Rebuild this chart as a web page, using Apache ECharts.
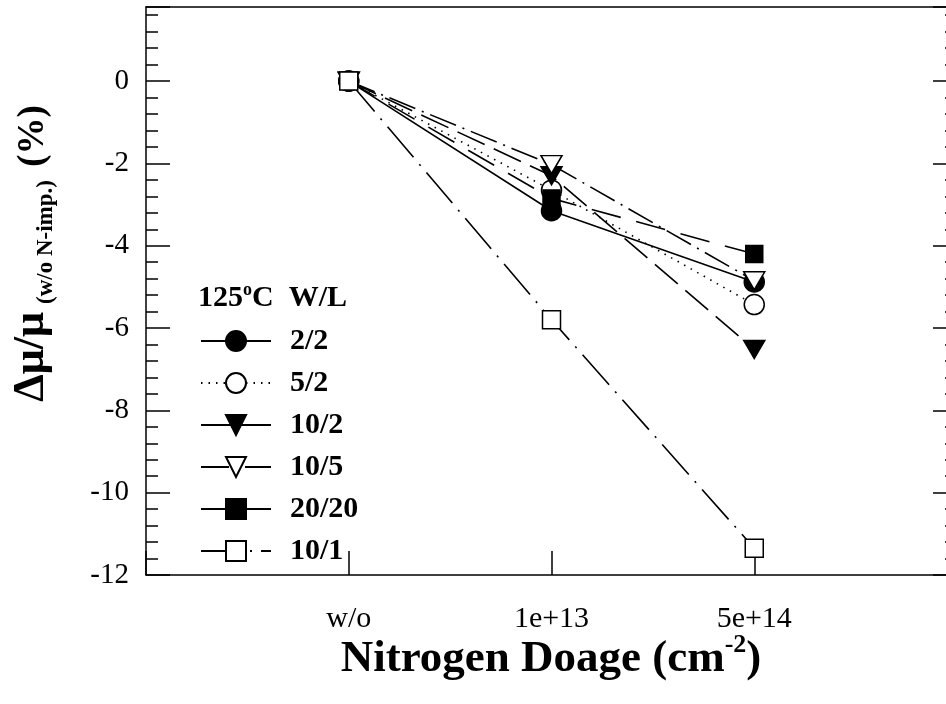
<!DOCTYPE html>
<html><head><meta charset="utf-8">
<script src="https://cdn.jsdelivr.net/npm/echarts@6/dist/echarts.min.js"></script>
<style>html,body{margin:0;padding:0;background:#fff}#c{width:946px;height:704px}</style>
</head><body><div id="c"></div>
<script>
// ---- data ----
const categories = ['w/o', '1e+13', '5e+14'];
const seriesNames = ['2/2', '5/2', '10/2', '10/5', '20/20', '10/1'];
const v_2_2   = [0, -3.15, -4.88];
const v_5_2   = [0, -2.65, -5.43];
const v_10_2  = [0, -2.30, -6.52];
const v_10_5  = [0, -2.03, -4.85];
const v_20_20 = [0, -2.85, -4.20];
const v_10_1  = [0, -5.80, -11.35];
const yTickValues = [0, -2, -4, -6, -8, -10, -12];

// ---- chart ----
const FONT = '"Liberation Serif", "Times New Roman", serif';
const chart = echarts.init(document.getElementById('c'));
const toPoints = vals => vals.map((v, i) => [i + 1, v]);
const DOWN_TRI = 'path://M0,0L20,0L10,17Z';
const lw = 1.6;

const styles = {
  '2/2':   {symbol: 'circle', size: 20, fill: '#000', dash: 'solid'},
  '5/2':   {symbol: 'circle', size: 20, fill: '#fff', dash: [1.5, 6]},
  '10/2':  {symbol: DOWN_TRI, size: [21, 18], fill: '#000', dash: [30, 10]},
  '10/5':  {symbol: DOWN_TRI, size: [21, 18], fill: '#fff', dash: [28, 7, 2, 7]},
  '20/20': {symbol: 'rect', size: 17, fill: '#000', dash: [30, 16]},
  '10/1':  {symbol: 'rect', size: 18, fill: '#fff', dash: [40, 9, 2, 9]}
};
const valueSets = [v_2_2, v_5_2, v_10_2, v_10_5, v_20_20, v_10_1];

const series = seriesNames.map((name, k) => {
  const s = styles[name];
  return {
    name: name,
    type: 'line',
    data: toPoints(valueSets[k]),
    symbol: s.symbol,
    symbolSize: s.size,
    symbolKeepAspect: false,
    showAllSymbol: true,
    itemStyle: {color: s.fill, borderColor: '#000', borderWidth: 1.5, opacity: 1},
    lineStyle: {color: '#000', width: lw, type: s.dash},
    emphasis: {disabled: true},
    z: 2 + k
  };
});

const axisLineStyle = {color: '#000', width: 1.5};

const option = {
  animation: false,
  backgroundColor: '#fff',
  grid: {left: 146, top: 7, width: 811, height: 568, outerBoundsMode: 'none', containLabel: false},
  legend: {
    orient: 'vertical',
    left: 200,
    top: 326,
    padding: 0,
    itemWidth: 70,
    itemHeight: 25,
    itemGap: 12,
    data: seriesNames,
    selectedMode: false,
    textStyle: {fontFamily: FONT, fontSize: 30, fontWeight: 'bold', color: '#000', lineHeight: 25, padding: [0, 0, 0, 14]}
  },
  xAxis: [{
    type: 'value', min: 0, max: 4, interval: 1, position: 'bottom',
    axisLine: {show: true, onZero: false, lineStyle: axisLineStyle},
    axisTick: {show: true, inside: true, length: 24, lineStyle: {color: '#000', width: 1.5}},
    axisLabel: {
      margin: 29, fontFamily: FONT, fontSize: 30, color: '#000',
      formatter: v => categories[Math.round(v) - 1] || ''
    },
    splitLine: {show: false}
  }, {
    type: 'value', min: 0, max: 4, interval: 1, position: 'top',
    axisLine: {show: true, onZero: false, lineStyle: axisLineStyle},
    axisTick: {show: false}, axisLabel: {show: false}, splitLine: {show: false}
  }],
  yAxis: [{
    type: 'value', min: -12, max: 1.8, interval: 2, position: 'left',
    axisLine: {show: true, onZero: false, lineStyle: axisLineStyle},
    axisTick: {show: true, inside: true, length: 24, lineStyle: {color: '#000', width: 1.5}},
    minorTick: {show: true, splitNumber: 5, length: 12, lineStyle: {color: '#000', width: 1.5}},
    axisLabel: {
      margin: 17, fontFamily: FONT, fontSize: 29, color: '#000',
      formatter: v => (yTickValues.indexOf(Math.round(v * 100) / 100) >= 0 ? String(v) : '')
    },
    splitLine: {show: false}
  }, {
    type: 'value', min: -12, max: 1.8, interval: 2, position: 'right',
    axisLine: {show: true, onZero: false, lineStyle: axisLineStyle},
    axisTick: {show: true, inside: true, length: 24, lineStyle: {color: '#000', width: 1.5}},
    minorTick: {show: true, splitNumber: 5, length: 12, lineStyle: {color: '#000', width: 1.5}},
    axisLabel: {show: false},
    splitLine: {show: false}
  }],
  graphic: [
    // y-axis title pieces (rotated)
    {type: 'text', x: 32, y: 357, rotation: Math.PI / 2,
     style: {text: 'Δμ/μ', font: 'bold 44px ' + FONT, fill: '#000', align: 'center', verticalAlign: 'middle'}},
    {type: 'text', x: 46, y: 242, rotation: Math.PI / 2,
     style: {text: '(w/o N-imp.)', font: 'bold 23px ' + FONT, fill: '#000', align: 'center', verticalAlign: 'middle'}},
    {type: 'text', x: 33, y: 136, rotation: Math.PI / 2,
     style: {text: '(%)', font: 'bold 37px ' + FONT, fill: '#000', align: 'center', verticalAlign: 'middle'}},
    // x-axis title
    {type: 'text', x: 551, y: 657,
     style: {
       text: '{b|Nitrogen Doage (cm}{s|-2}{b|)}',
       align: 'center', verticalAlign: 'middle',
       rich: {
         b: {fontFamily: FONT, fontSize: 45, fontWeight: 'bold', fill: '#000', color: '#000', lineHeight: 50, verticalAlign: 'bottom'},
         s: {fontFamily: FONT, fontSize: 26, fontWeight: 'bold', fill: '#000', color: '#000', lineHeight: 26, verticalAlign: 'top'}
       }
     }},
    // legend title
    {type: 'text', x: 198, y: 297,
     style: {
       text: '{b|125}{s|o}{b|C  W/L}',
       align: 'left', verticalAlign: 'middle',
       rich: {
         b: {fontFamily: FONT, fontSize: 30, fontWeight: 'bold', fill: '#000', color: '#000', lineHeight: 32, verticalAlign: 'bottom'},
         s: {fontFamily: FONT, fontSize: 18, fontWeight: 'bold', fill: '#000', color: '#000', lineHeight: 18, verticalAlign: 'top'}
       }
     }}
  ],
  series: series
};
chart.setOption(option);
</script>
</body></html>
